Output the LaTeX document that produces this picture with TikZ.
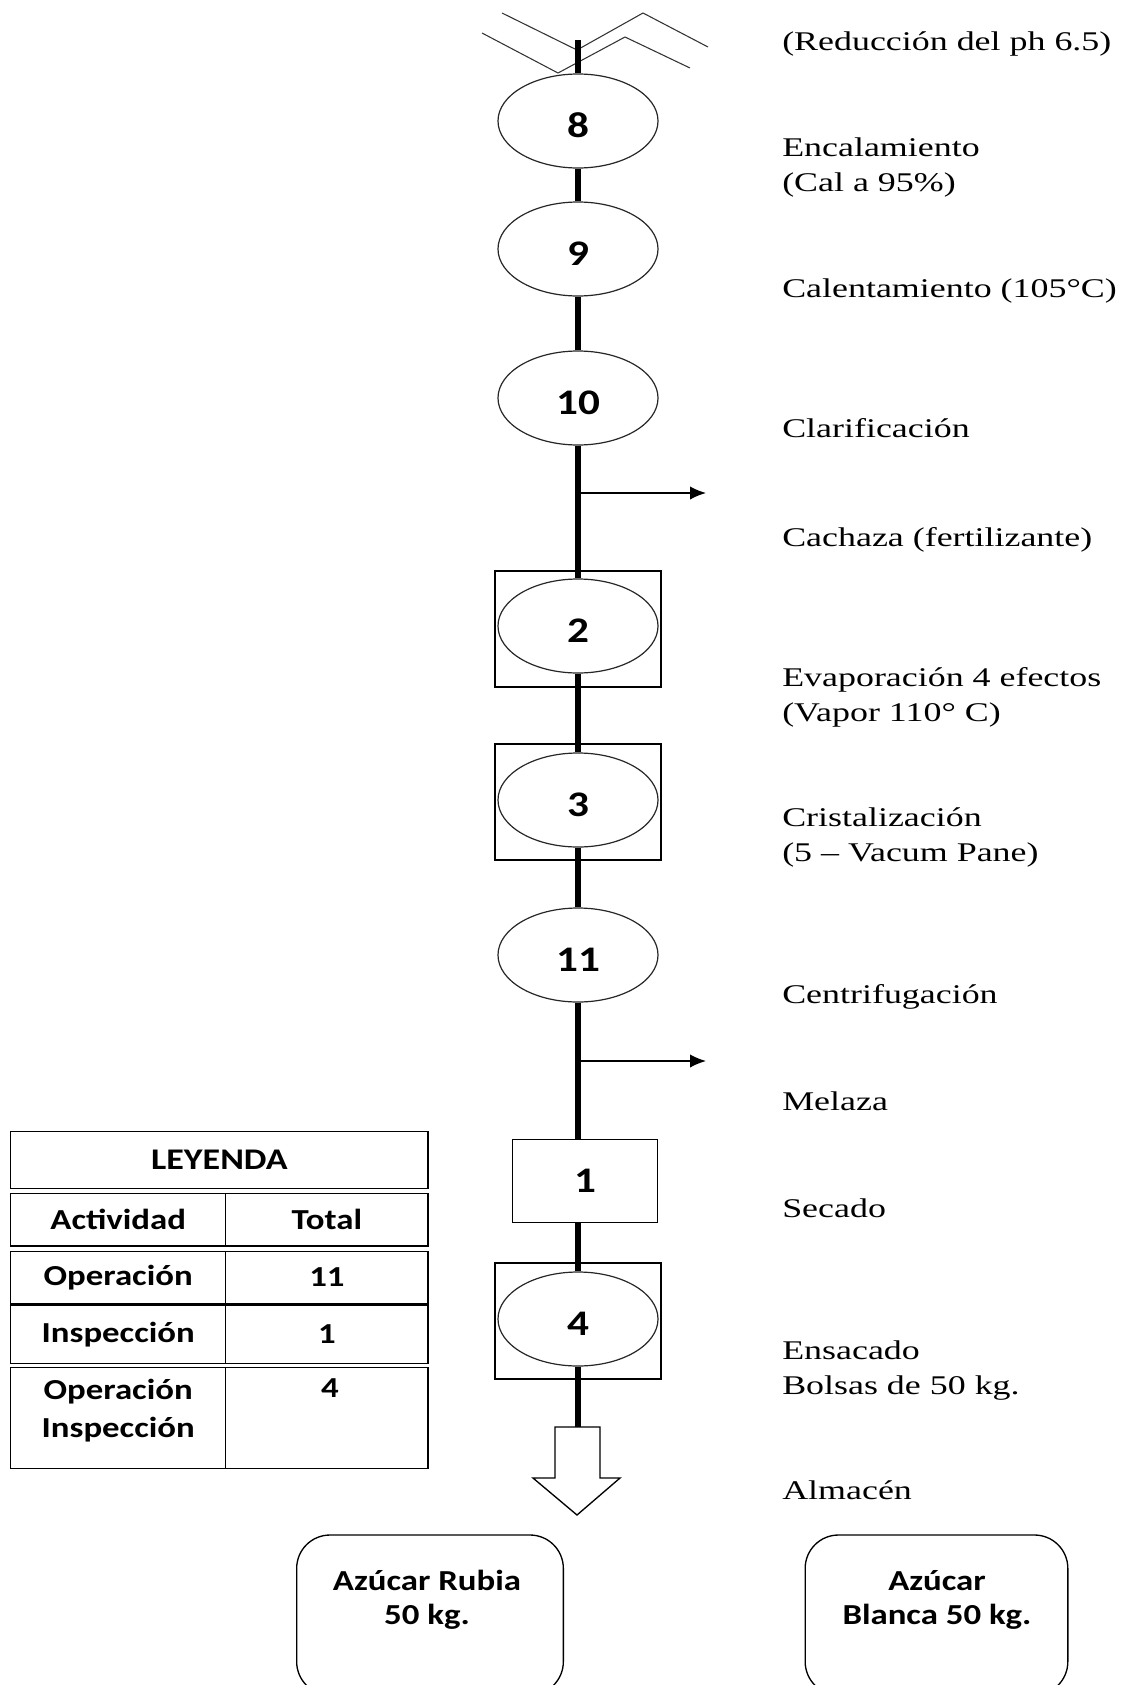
\documentclass[tikz,border=0pt]{standalone}
\usepackage{fontspec}
\setmainfont{Liberation Serif}[FakeStretch=1.33]
\newfontfamily\calib{Carlito}[FakeStretch=1.2]
\usetikzlibrary{arrows.meta, shapes.geometric, positioning}

\begin{document}
\begin{tikzpicture}[x=0.75pt, y=-0.75pt,
        flow/.style={line width=5pt},
        zig/.style={draw=black!80, line width=0.8pt},
        side/.style={-{Latex[length=12pt, width=10pt]}, line width=1.1pt},
        opnode/.style={ellipse, draw=black!85, line width=0.9pt, fill=white, minimum width=120pt, minimum height=70.5pt, inner sep=0pt, text height=25pt, text depth=0pt, font=\calib\bfseries\fontsize{27}{30}\selectfont},
        opbox/.style={draw, line width=1pt, minimum width=124.5pt, minimum height=87pt},
        lbl/.style={anchor=base west, inner sep=0pt, align=left, font=\fontsize{20.25}{26.25}\selectfont},
        cell/.style={draw, line width=1pt, inner sep=0pt, font=\calib\bfseries\fontsize{21.75}{28.5}\selectfont},
        prod/.style={draw, line width=1pt, rounded corners=25pt, minimum height=120pt},
        prodtxt/.style={align=center, font=\calib\bfseries\fontsize{21.75}{25.5}\selectfont}]
        \useasboundingbox (0,0) rectangle (1127,1685);
        \clip (0,0) rectangle (1127,1685);

        % entrada (corte)
        \draw[zig] (502,13) -- (577,50) -- (643,13) -- (708,47);
        \draw[zig] (482,33) -- (558,73) -- (625,37) -- (690,68);
        \coordinate (top) at (578,40);

        % operaciones
        \node (e8) at (578,121)[opnode] {8};
        \node (e9) at (578,249)[opnode] {9};
        \node (e10) at (578,398)[opnode] {10};
        \node (b2) at (578,629)[opbox] {};
        \node (e2) at (578,626)[opnode] {2};
        \node (b3) at (578,802)[opbox] {};
        \node (e3) at (578,800)[opnode] {3};
        \node (e11) at (578,955)[opnode] {11};
        \node (sq1) at (585,1181)[opbox, minimum width=108.75pt, minimum height=62.25pt, font=\calib\bfseries\fontsize{27}{30}\selectfont] {1};
        \node (b4) at (578,1321)[opbox] {};
        \node (e4) at (578,1319)[opnode] {4};
        \coordinate (alm) at (578,1427);

        \draw[flow] (top) -- (e8);
        \draw[flow] (e8) -- (e9);
        \draw[flow] (e9) -- (e10);
        \draw[flow] (e10) -- (e2);
        \draw[flow] (e2) -- (e3);
        \draw[flow] (e3) -- (e11);
        \draw[flow] (e11) -- (e11 |- sq1.north);
        \draw[flow] (sq1.south -| e4) -- (e4);
        \draw[flow] (e4) -- (alm);

        % salidas laterales
        \coordinate (s1) at (578,493);
        \coordinate (s1e) at (706,493);
        \coordinate (s2) at (578,1061);
        \coordinate (s2e) at (706,1061);
        \draw[side] (s1) -- (s1e);
        \draw[side] (s2) -- (s2e);

        % almacen
        \draw[line width=1pt, fill=white] (555,1427) -- (600,1427) -- (600,1478) -- (620,1478) -- (577,1515) -- (533,1478) -- (555,1478) -- cycle;

        % textos (base = ultima linea)
        \node (t1) at (782,50)[lbl] {(Reducción del ph 6.5)};
        \node (t2) at (782,191.7)[lbl] {Encalamiento\\(Cal a 95\%)};
        \node (t3) at (782,297)[lbl] {Calentamiento (105°C)};
        \node (t4) at (782,437)[lbl] {Clarificación};
        \node (t5) at (782,546)[lbl] {Cachaza (fertilizante)};
        \node (t6) at (782,721.7)[lbl] {Evaporación 4 efectos\\(Vapor 110° C)};
        \node (t7) at (782,861.7)[lbl] {Cristalización\\(5 – Vacum Pane)};
        \node (t8) at (782,1003)[lbl] {Centrifugación};
        \node (t9) at (782,1110)[lbl] {Melaza};
        \node (t10) at (782,1217)[lbl] {Secado};
        \node (t11) at (782,1394)[lbl] {Ensacado\\Bolsas de 50 kg.};
        \node (t12) at (782,1499)[lbl] {Almacén};

        % leyenda
        \node (ley) at (219.4,1160)[cell, minimum width=313pt, minimum height=42.5pt, font=\calib\bfseries\fontsize{22.5}{26}\selectfont] {LEYENDA};
        \node (r2a) at (118.2,1219.7)[cell, minimum width=161.25pt, minimum height=39.5pt] {Actividad};
        \node (r2b) at (326.9,1219.7)[cell, minimum width=151.7pt, minimum height=39.5pt] {Total};
        \node (r3a) at (118.2,1277.5)[cell, minimum width=161.25pt, minimum height=38.7pt] {Operación};
        \node (r3b) at (326.9,1277.5)[cell, minimum width=151.7pt, minimum height=38.7pt] {11};
        \node (r4a) at (118.2,1334.2)[cell, minimum width=161.25pt, minimum height=43.7pt] {Inspección};
        \node (r4b) at (326.9,1334.2)[cell, minimum width=151.7pt, minimum height=43.7pt] {1};
        \node (r5a) at (118.2,1417.8)[cell, minimum width=161.25pt, minimum height=75.75pt] {};
        \node (r5b) at (326.9,1417.8)[cell, minimum width=151.7pt, minimum height=75.75pt] {};
        \node (r5at) at (118.2,1411)[cell, draw=none, align=center] {Operación\\Inspección};
        \node (r5bt) at (330,1388)[cell, draw=none] {4};

        % productos
        \node (rubia) at (430,1615)[prod, minimum width=200pt] {};
        \node (rubiat) at (427,1600)[prodtxt] {Azúcar Rubia\\50 kg.};
        \node (blanca) at (936.5,1615)[prod, minimum width=197pt] {};
        \node (blancat) at (937,1600)[prodtxt] {Azúcar\\Blanca 50 kg.};
\end{tikzpicture}
\end{document}
